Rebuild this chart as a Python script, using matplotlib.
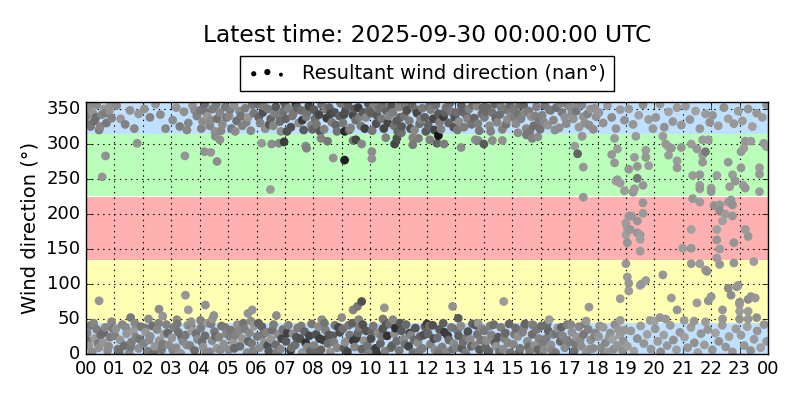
import numpy as np
import matplotlib
matplotlib.use('Agg')
import matplotlib.pyplot as plt

# ---------------- data ----------------
title_text = 'Latest time: 2025-09-30 00:00:00 UTC'
legend_label = 'Resultant wind direction (nan°)'
hour_labels = ['00', '01', '02', '03', '04', '05', '06', '07', '08', '09', '10', '11',
               '12', '13', '14', '15', '16', '17', '18', '19', '20', '21', '22', '23', '00']
y_ticks = [0, 50, 100, 150, 200, 250, 300, 350]

band_lo = [0, 45, 135, 225, 315]
band_hi = [45, 135, 225, 315, 360]
band_colors = ['#bfe0ff', '#ffffb3', '#ffb0b0', '#b9ffb9', '#bfe0ff']

# low band (0-45 deg)
low_t = [0.04, 0.10, 0.17, 0.22, 0.30, 0.38, 0.45, 0.52, 0.60, 0.68, 0.76, 0.84,
         1.05, 1.12, 1.20, 1.28, 1.35, 1.43, 1.52, 1.60, 1.67, 1.75, 1.85, 1.93,
         2.03, 2.10, 2.18, 2.26, 2.34, 2.42, 2.50, 2.58, 2.66, 2.74, 2.83, 2.91,
         3.02, 3.09, 3.17, 3.25, 3.33, 3.41, 3.50, 3.58, 3.66, 3.74, 3.82, 3.92,
         4.04, 4.12, 4.19, 4.27, 4.35, 4.44, 4.52, 4.60, 4.68, 4.77, 4.85, 4.93,
         5.02, 5.10, 5.18, 5.26, 5.33, 5.42, 5.50, 5.58, 5.67, 5.75, 5.83, 5.92,
         6.03, 6.11, 6.19, 6.27, 6.35, 6.43, 6.51, 6.60, 6.68, 6.76, 6.85, 6.93,
         7.04, 7.12, 7.20, 7.28, 7.36, 7.45, 7.53, 7.61, 7.69, 7.78, 7.86, 7.94,
         8.02, 8.10, 8.18, 8.27, 8.35, 8.43, 8.51, 8.60, 8.68, 8.76, 8.84, 8.93,
         9.04, 9.12, 9.20, 9.28, 9.37, 9.45, 9.53, 9.61, 9.70, 9.78, 9.86, 9.94,
         10.03, 10.11, 10.19, 10.27, 10.36, 10.44, 10.52, 10.60, 10.68, 10.77, 10.85, 10.93,
         11.02, 11.10, 11.18, 11.26, 11.35, 11.43, 11.51, 11.59, 11.68, 11.76, 11.84, 11.93,
         12.04, 12.12, 12.20, 12.28, 12.36, 12.44, 12.53, 12.61, 12.69, 12.77, 12.86, 12.94,
         13.03, 13.11, 13.19, 13.27, 13.36, 13.44, 13.52, 13.60, 13.69, 13.77, 13.85, 13.93,
         14.02, 14.10, 14.18, 14.27, 14.35, 14.43, 14.51, 14.60, 14.68, 14.76, 14.85, 14.93,
         15.04, 15.12, 15.20, 15.28, 15.36, 15.45, 15.53, 15.61, 15.70, 15.78, 15.86, 15.94,
         16.03, 16.11, 16.19, 16.27, 16.36, 16.44, 16.52, 16.60, 16.69, 16.77, 16.85, 16.93,
         17.02, 17.10, 17.18, 17.27, 17.35, 17.43, 17.51, 17.60, 17.68, 17.76, 17.85, 17.93,
         18.04, 18.12, 18.20, 18.28, 18.37, 18.45, 18.53, 18.61, 18.70, 18.79, 18.88, 18.95,
         19.05, 19.17, 19.28, 19.40, 19.52, 19.63, 19.75, 19.88,
         20.03, 20.12, 20.22, 20.33, 20.45, 20.56, 20.67, 20.78, 20.90,
         21.06, 21.17, 21.29, 21.41, 21.53, 21.64, 21.76, 21.88,
         22.04, 22.15, 22.27, 22.39, 22.51, 22.63, 22.75, 22.87,
         23.05, 23.16, 23.27, 23.39, 23.51, 23.62, 23.74, 23.86, 23.95]
low_d = [30, 12, 41, 3, 22, 35, 9, 27, 16, 38, 5, 24,
         36, 7, 20, 42, 12, 29, 2, 17, 33, 24, 8, 39,
         15, 31, 4, 25, 40, 11, 35, 19, 6, 28, 42, 13,
         23, 38, 9, 31, 1, 18, 27, 41, 12, 33, 5, 21,
         37, 10, 26, 44, 3, 19, 32, 8, 24, 40, 14, 29,
         6, 34, 17, 27, 42, 11, 22, 36, 2, 30, 15, 40,
         25, 9, 39, 16, 31, 4, 21, 42, 13, 28, 7, 35,
         18, 41, 5, 29, 13, 37, 22, 2, 32, 10, 26, 43,
         12, 28, 39, 6, 20, 34, 15, 3, 26, 41, 9, 31,
         36, 17, 3, 27, 44, 10, 23, 38, 7, 19, 33, 1,
         22, 40, 8, 30, 15, 36, 4, 26, 43, 12, 29, 18,
         5, 33, 21, 42, 11, 27, 2, 37, 16, 25, 8, 39,
         29, 14, 41, 6, 23, 35, 10, 31, 3, 20, 38, 15,
         9, 26, 40, 17, 2, 32, 21, 43, 12, 28, 6, 36,
         33, 19, 4, 27, 42, 11, 24, 38, 7, 30, 16, 2,
         14, 37, 25, 8, 31, 43, 18, 3, 28, 12, 35, 22,
         40, 6, 22, 33, 13, 28, 2, 37, 18, 26, 9, 42,
         17, 31, 4, 24, 39, 11, 28, 2, 35, 20, 8, 30,
         25, 9, 38, 16, 3, 30, 21, 42, 12, 27, 5, 34,
         11, 33, 4, 22, 40, 15, 28, 7,
         36, 18, 3, 27, 12, 41, 20, 6, 31,
         24, 9, 38, 16, 2, 29, 13, 35,
         6, 30, 18, 41, 10, 25, 3, 36,
         27, 12, 39, 5, 21, 33, 9, 42, 18]
low_g = [130, 150, 120, 140, 155, 125, 145, 110, 150, 135, 140, 125,
         145, 120, 150, 135, 110, 150, 140, 125, 155, 130, 145, 120,
         130, 150, 125, 140, 110, 150, 135, 145, 120, 155, 130, 140,
         150, 125, 140, 115, 150, 135, 120, 145, 130, 155, 110, 140,
         125, 145, 110, 150, 135, 140, 120, 150, 130, 115, 145, 135,
         140, 120, 150, 130, 145, 110, 150, 125, 140, 135, 120, 150,
         120, 140, 100, 145, 130, 90, 150, 125, 110, 140, 135, 115,
         90, 130, 60, 140, 110, 125, 80, 150, 100, 135, 70, 120,
         130, 80, 140, 100, 60, 125, 110, 145, 90, 120, 135, 75,
         110, 140, 70, 120, 95, 135, 60, 125, 100, 145, 85, 130,
         75, 120, 60, 140, 100, 85, 130, 50, 115, 95, 140, 110,
         120, 90, 140, 105, 70, 130, 115, 85, 140, 100, 125, 95,
         100, 130, 80, 140, 110, 90, 125, 60, 135, 105, 120, 140,
         130, 95, 140, 110, 125, 80, 140, 100, 130, 115, 90, 135,
         120, 140, 100, 130, 110, 145, 90, 125, 140, 105, 135, 115,
         135, 110, 145, 120, 130, 100, 140, 125, 110, 145, 120, 130,
         110, 140, 125, 100, 145, 130, 120, 150, 105, 135, 140, 125,
         125, 145, 110, 150, 135, 140, 120, 150, 130, 145, 140, 135,
         150, 140, 155, 135, 150, 145, 160, 140, 150, 155, 145, 150,
         155, 150, 160, 145, 155, 150, 160, 150,
         150, 155, 140, 160, 150, 155, 145, 160, 150,
         160, 150, 155, 145, 160, 150, 155, 150,
         150, 160, 145, 155, 150, 160, 150, 155,
         155, 150, 160, 145, 155, 150, 160, 150, 155]

# second set of low-band observations (0-45 deg), hours 00-18
low2_t = [0.07, 0.27, 0.42, 0.63, 0.80, 0.95,
          1.02, 1.17, 1.40, 1.57, 1.72, 1.89,
          2.07, 2.22, 2.38, 2.55, 2.70, 2.87,
          3.05, 3.21, 3.37, 3.54, 3.70, 3.87,
          4.08, 4.23, 4.40, 4.56, 4.73, 4.89,
          5.06, 5.22, 5.38, 5.54, 5.71, 5.88,
          6.07, 6.23, 6.39, 6.56, 6.72, 6.89,
          7.08, 7.24, 7.40, 7.57, 7.73, 7.90,
          8.06, 8.22, 8.39, 8.55, 8.72, 8.88,
          9.08, 9.24, 9.41, 9.57, 9.74, 9.90,
          10.07, 10.23, 10.40, 10.56, 10.73, 10.89,
          11.06, 11.22, 11.39, 11.55, 11.72, 11.88,
          12.08, 12.24, 12.40, 12.57, 12.73, 12.90,
          13.07, 13.23, 13.40, 13.56, 13.73, 13.89,
          14.06, 14.22, 14.39, 14.55, 14.72, 14.89,
          15.08, 15.24, 15.41, 15.57, 15.74, 15.90,
          16.07, 16.23, 16.40, 16.56, 16.73, 16.89,
          17.06, 17.23, 17.39, 17.56, 17.72, 17.89,
          18.08, 18.24, 18.41, 18.57, 18.74, 18.91]
low2_d = [19, 44, 15, 31, 11, 36,
          26, 3, 38, 10, 44, 21,
          37, 20, 2, 44, 14, 30,
          6, 43, 24, 13, 40, 29,
          17, 2, 43, 25, 6, 38,
          25, 8, 33, 44, 18, 5,
          44, 28, 12, 34, 2, 22,
          30, 9, 24, 40, 16, 4,
          2, 22, 44, 27, 17, 38,
          8, 41, 19, 30, 42, 12,
          33, 1, 25, 42, 9, 37,
          44, 14, 30, 20, 4, 27,
          40, 22, 2, 44, 26, 7,
          34, 8, 24, 11, 41, 20,
          10, 40, 16, 3, 22, 43,
          28, 2, 38, 10, 41, 6,
          15, 43, 5, 29, 38, 20,
          42, 14, 20, 43, 7, 25,
          40, 1, 24, 7, 35, 18]
low2_g = [115, 135, 125, 105, 140, 120,
          130, 110, 140, 120, 135, 115,
          120, 140, 110, 130, 125, 105,
          135, 120, 105, 140, 125, 115,
          110, 135, 125, 105, 140, 120,
          125, 105, 135, 115, 100, 130,
          95, 120, 80, 110, 125, 70,
          65, 110, 85, 125, 50, 100,
          105, 60, 115, 85, 125, 70,
          90, 120, 55, 105, 80, 115,
          100, 65, 120, 85, 110, 45,
          85, 115, 70, 105, 125, 80,
          110, 75, 120, 95, 60, 115,
          115, 90, 125, 100, 85, 120,
          105, 125, 90, 115, 130, 100,
          120, 100, 130, 110, 125, 105,
          125, 110, 135, 115, 100, 130,
          135, 120, 140, 125, 145, 130,
          145, 135, 150, 140, 150, 145]

# high band (315-360 deg)
high_t = [0.03, 0.10, 0.16, 0.23, 0.30, 0.38, 0.46, 0.55, 0.64, 0.72, 0.82, 0.90,
          1.08, 1.22, 1.38, 1.55, 1.70, 1.85,
          2.05, 2.25, 2.45, 2.62, 2.80,
          3.05, 3.18, 3.30, 3.45, 3.60, 3.75, 3.90,
          4.02, 4.10, 4.18, 4.27, 4.36, 4.45, 4.54, 4.62, 4.71, 4.80, 4.90,
          5.03, 5.12, 5.21, 5.30, 5.40, 5.50, 5.60, 5.70, 5.80, 5.90,
          6.04, 6.13, 6.22, 6.31, 6.40, 6.50, 6.59, 6.68, 6.77, 6.86, 6.95,
          7.03, 7.12, 7.21, 7.30, 7.39, 7.48, 7.57, 7.66, 7.75, 7.84, 7.93,
          8.02, 8.11, 8.20, 8.29, 8.38, 8.47, 8.56, 8.65, 8.74, 8.83, 8.92,
          9.04, 9.13, 9.22, 9.31, 9.40, 9.49, 9.58, 9.67, 9.76, 9.85, 9.94,
          10.03, 10.12, 10.21, 10.30, 10.39, 10.48, 10.57, 10.66, 10.75, 10.84, 10.93,
          11.02, 11.11, 11.20, 11.29, 11.38, 11.47, 11.56, 11.65, 11.74, 11.83, 11.92,
          12.04, 12.13, 12.22, 12.31, 12.40, 12.49, 12.58, 12.67, 12.76, 12.85, 12.94,
          13.03, 13.12, 13.21, 13.30, 13.39, 13.48, 13.57, 13.66, 13.75, 13.84, 13.93,
          14.02, 14.11, 14.20, 14.29, 14.38, 14.47, 14.56, 14.65, 14.74, 14.83, 14.92,
          15.04, 15.13, 15.22, 15.31, 15.40, 15.49, 15.58, 15.67, 15.76, 15.85, 15.94,
          16.05, 16.15, 16.25, 16.35, 16.45, 16.55, 16.65, 16.75, 16.85, 16.95,
          17.05, 17.15, 17.25, 17.35, 17.45, 17.55, 17.65, 17.75, 17.85, 17.95,
          18.05, 18.20, 18.35, 18.50, 18.65, 18.80, 18.95,
          19.10, 19.25, 19.45, 19.60, 19.80, 19.95,
          20.05, 20.20, 20.35, 20.50, 20.65, 20.80, 20.95,
          21.10, 21.25, 21.45, 21.60, 21.80, 21.95,
          22.05, 22.25, 22.45, 22.60, 22.80, 22.95,
          23.10, 23.30, 23.45, 23.60, 23.80, 23.95]
high_d = [340, 352, 325, 345, 333, 356, 320, 342, 350, 330, 347, 337,
          355, 336, 328, 348, 322, 343,
          350, 338, 357, 342, 322,
          334, 352, 325, 346, 330, 355, 340,
          348, 332, 357, 340, 326, 350, 318, 336, 345, 328, 353,
          340, 322, 355, 333, 347, 326, 351, 338, 319, 344,
          357, 330, 345, 322, 350, 336, 326, 353, 341, 318, 347,
          336, 351, 324, 344, 357, 330, 348, 320, 339, 354, 327,
          349, 328, 342, 356, 321, 337, 352, 331, 345, 318, 340,
          330, 347, 355, 323, 341, 334, 352, 326, 345, 338, 357,
          344, 357, 329, 350, 336, 322, 347, 340, 355, 326, 333,
          353, 325, 340, 348, 333, 357, 320, 344, 329, 351, 338,
          327, 349, 336, 356, 343, 321, 339, 352, 330, 346, 324,
          345, 332, 355, 324, 341, 350, 328, 337, 354, 319, 343,
          338, 352, 326, 345, 357, 331, 342, 321, 349, 335, 356,
          350, 329, 343, 336, 355, 322, 347, 339, 326, 353, 333,
          341, 355, 327, 348, 334, 352, 323, 345, 338, 356,
          352, 336, 347, 324, 356, 330, 343, 350, 321, 339,
          345, 330, 355, 338, 322, 349, 334,
          350, 328, 341, 356, 335, 322,
          338, 357, 324, 346, 332, 352, 327,
          354, 335, 347, 322, 343, 331,
          341, 326, 352, 336, 329, 347,
          333, 350, 325, 344, 338, 356]
high_g = [130, 145, 120, 150, 110, 140, 125, 135, 150, 120, 145, 130,
          140, 150, 130, 145, 135, 150,
          145, 130, 150, 140, 135,
          140, 150, 125, 145, 135, 150, 130,
          120, 140, 110, 150, 130, 125, 145, 115, 135, 140, 120,
          135, 120, 145, 110, 140, 130, 125, 150, 135, 120,
          110, 130, 80, 140, 120, 100, 135, 90, 125, 140, 115,
          100, 130, 80, 120, 60, 140, 110, 90, 125, 70, 135,
          90, 120, 70, 110, 130, 60, 100, 125, 80, 115, 95,
          120, 80, 100, 130, 70, 110, 60, 125, 90, 135, 85,
          95, 130, 80, 110, 120, 70, 100, 135, 85, 115, 90,
          130, 90, 115, 80, 125, 100, 135, 70, 110, 120, 95,
          100, 125, 70, 110, 90, 130, 60, 115, 100, 120, 85,
          110, 140, 95, 125, 105, 130, 115, 100, 135, 120, 110,
          125, 105, 140, 115, 100, 135, 110, 130, 120, 140, 105,
          120, 140, 115, 130, 100, 135, 125, 145, 110, 130, 120,
          130, 115, 145, 120, 135, 110, 140, 125, 145, 130,
          140, 145, 120, 150, 135, 145, 130, 150, 140, 145,
          150, 145, 155, 140, 150, 155, 145,
          155, 150, 160, 145, 155, 150,
          150, 155, 145, 160, 150, 155, 150,
          155, 150, 160, 150, 155, 145,
          150, 155, 145, 160, 150, 155,
          155, 150, 160, 150, 155, 145]

# second set of high-band observations (315-360 deg)
high2_t = [0.06, 0.20, 0.35, 0.50, 0.68, 0.86,
           3.55, 3.82,
           4.06, 4.23, 4.40, 4.58, 4.75, 4.94,
           5.07, 5.25, 5.45, 5.64, 5.85,
           6.08, 6.26, 6.45, 6.63, 6.82, 6.99,
           7.07, 7.26, 7.43, 7.61, 7.80, 7.97,
           8.06, 8.24, 8.42, 8.60, 8.79, 8.96,
           9.08, 9.26, 9.44, 9.63, 9.81, 9.98,
           10.07, 10.25, 10.43, 10.62, 10.80, 10.97,
           11.06, 11.24, 11.42, 11.60, 11.78, 11.96,
           12.08, 12.26, 12.44, 12.62, 12.80, 12.98,
           13.07, 13.25, 13.43, 13.61, 13.79, 13.97,
           14.06, 14.24, 14.42, 14.60, 14.78, 14.96,
           15.08, 15.26, 15.44, 15.62, 15.80, 15.98,
           16.10, 16.30, 16.50, 16.70, 16.90,
           17.10, 17.30, 17.50, 17.70, 17.90]
high2_d = [328, 358, 338, 325, 344, 357,
           320, 348,
           322, 345, 334, 356, 319, 338,
           349, 318, 340, 331, 356,
           338, 354, 328, 344, 332, 358,
           318, 340, 352, 334, 346, 321,
           336, 318, 350, 343, 327, 358,
           342, 320, 350, 339, 322, 348,
           319, 340, 356, 330, 345, 318,
           338, 355, 322, 349, 336, 318,
           354, 320, 331, 345, 358, 338,
           320, 346, 336, 356, 329, 352,
           346, 318, 336, 354, 328, 342,
           338, 356, 345, 318, 340, 321,
           332, 349, 320, 358, 329,
           344, 358, 339, 327, 351]
high2_g = [120, 140, 110, 135, 125, 145,
           135, 140,
           130, 115, 140, 125, 135, 120,
           125, 140, 115, 130, 120,
           100, 125, 85, 130, 110, 95,
           80, 120, 95, 60, 115, 100,
           110, 85, 125, 70, 100, 120,
           75, 115, 90, 125, 65, 105,
           120, 90, 110, 70, 125, 100,
           95, 120, 80, 110, 130, 90,
           115, 70, 125, 95, 110, 80,
           120, 100, 130, 110, 125, 105,
           110, 130, 100, 125, 115, 135,
           125, 110, 135, 120, 130, 115,
           135, 125, 140, 130, 140,
           140, 135, 145, 140, 145]

# scattered points outside the two main bands
mid_t = [0.57, 0.69, 1.80, 3.48, 4.17, 4.39, 4.61, 6.49, 6.18, 6.53, 6.79, 6.97, 7.73, 7.76, 4.71, 4.55,
         0.46, 3.50, 3.60, 4.20, 2.57, 2.70, 2.20, 1.57, 0.90, 4.50, 4.45, 5.70, 5.85, 5.80, 6.70, 4.03, 3.20, 3.70,
         9.10, 9.10, 8.70, 8.27, 8.50, 9.40, 9.50, 9.70, 10.06, 10.06, 10.55, 10.86, 10.94, 11.10, 11.50, 11.50,
         11.70, 12.10, 12.40, 12.35, 12.60, 13.20, 13.70, 13.80, 14.00, 14.30, 14.65, 15.20, 15.50, 15.70, 15.90,
         8.30, 9.00, 9.40, 9.55, 9.70, 10.50, 9.60, 10.45, 10.80, 12.90, 13.10, 14.70, 12.00, 13.80, 15.70,
         17.20, 17.30, 17.50, 17.50, 17.46, 18.60, 18.50, 18.70, 18.60, 18.65, 18.80, 18.70, 18.95, 19.10, 19.30,
         19.40, 19.40, 19.30, 19.25, 19.70, 19.70, 19.80, 19.60, 19.35, 20.30, 20.40, 20.50, 20.60, 20.50, 20.95,
         20.80, 20.80, 21.30, 21.50, 21.70, 21.90, 21.80, 21.70, 21.70, 21.35, 21.60, 21.60, 21.60, 22.00, 22.00,
         22.20, 22.60, 22.75, 22.85, 22.65, 23.05, 23.15, 23.05, 23.13, 23.20, 23.70, 23.70, 23.70, 23.20, 23.40,
         23.85, 23.95,
         21.35, 21.60, 22.10, 22.30, 22.30, 22.60, 22.70, 22.75, 22.50, 22.75, 22.40, 19.60, 19.60, 19.40, 19.10,
         19.20, 19.00, 19.00, 19.15, 19.05, 19.40, 19.50, 19.05, 19.50, 19.50, 19.00, 19.05, 19.10, 19.10, 19.50,
         19.55, 19.70, 20.30, 20.60, 20.80, 18.80, 17.70, 18.80, 17.60, 16.30, 21.30, 21.30, 21.00, 21.30, 21.60,
         21.80, 21.85, 22.20, 22.30, 22.20, 22.20, 22.30, 22.80, 23.20, 23.30, 22.80, 23.50, 22.60, 22.90, 22.95,
         22.70, 23.00, 23.00, 23.00, 22.00, 21.90, 21.50, 22.40, 23.30, 23.40, 23.55, 23.30, 22.40, 23.00, 23.30,
         23.60, 19.85, 20.20, 20.00, 20.40, 21.05, 21.40, 21.80]
mid_d = [253, 283, 301, 283, 289, 288, 275, 235, 301, 300, 301, 303, 297, 294, 306, 311,
         76, 84, 63, 70, 64, 54, 50, 52, 46, 55, 50, 58, 63, 47, 55, 48, 49, 46,
         318, 277, 280, 308, 304, 305, 306, 300, 289, 279, 309, 300, 308, 316, 309, 299,
         308, 306, 312, 301, 300, 295, 306, 305, 300, 305, 305, 316, 313, 308, 310,
         49, 52, 63, 68, 75, 66, 49, 50, 49, 68, 51, 75, 43, 44, 42,
         297, 286, 267, 224, 311, 308, 285, 293, 273, 247, 244, 249, 233, 264, 281,
         268, 251, 236, 231, 291, 281, 269, 241, 311, 311, 300, 296, 294, 284, 295,
         276, 266, 300, 293, 306, 306, 289, 284, 274, 255, 256, 241, 236, 237, 232,
         255, 274, 256, 247, 239, 289, 294, 266, 241, 237, 266, 257, 232, 304, 304,
         301, 296,
         222, 217, 212, 213, 204, 217, 220, 213, 200, 197, 190, 216, 201, 190, 197,
         197, 187, 170, 178, 180, 173, 170, 159, 164, 147, 129, 110, 101, 90, 98,
         100, 105, 113, 80, 63, 79, 67, 48, 47, 49, 178, 151, 151, 129, 129,
         120, 118, 137, 128, 178, 163, 150, 159, 178, 168, 130, 132, 94, 96, 98,
         84, 74, 71, 61, 82, 76, 73, 63, 78, 82, 80, 61, 50, 50, 50,
         52, 48, 52, 47, 50, 48, 47, 46]
mid_g = [150, 145, 145, 150, 145, 150, 140, 155, 150, 140, 135, 60, 140, 130, 145, 140,
         150, 150, 155, 145, 140, 150, 140, 120, 135, 145, 150, 145, 150, 140, 140, 130, 140, 145,
         40, 30, 145, 130, 120, 120, 70, 135, 140, 145, 130, 70, 80, 110, 130, 120,
         125, 130, 20, 100, 125, 140, 140, 135, 90, 140, 145, 140, 120, 130, 140,
         140, 140, 130, 120, 80, 150, 130, 120, 135, 145, 90, 155, 60, 150, 140,
         155, 100, 150, 150, 150, 155, 150, 155, 150, 160, 155, 150, 155, 150, 155,
         150, 120, 155, 150, 155, 150, 155, 150, 155, 155, 150, 155, 150, 155, 150,
         155, 150, 155, 150, 155, 155, 120, 155, 150, 155, 150, 155, 150, 155, 150,
         155, 150, 155, 150, 155, 150, 155, 150, 155, 150, 155, 150, 155, 150, 155,
         150, 155,
         150, 155, 145, 150, 140, 155, 150, 145, 155, 150, 160, 150, 155, 150, 155,
         150, 155, 160, 150, 155, 150, 155, 150, 160, 155, 150, 155, 150, 155, 160,
         150, 155, 150, 155, 150, 155, 150, 155, 150, 155, 160, 150, 155, 150, 155,
         150, 145, 155, 150, 160, 150, 155, 150, 155, 150, 150, 155, 140, 145, 150,
         140, 145, 150, 155, 150, 145, 155, 150, 140, 145, 150, 155, 150, 145, 150,
         145, 155, 150, 160, 150, 155, 150, 155]

# ---------------- plot ----------------
plt.style.use('classic')
plt.rcParams['font.family'] = ['DejaVu Sans']

fig = plt.figure(figsize=(8, 4), dpi=100, facecolor='white')
ax = fig.add_axes([0.1075, 0.115, 0.8525, 0.63])

for lo, hi, col in zip(band_lo, band_hi, band_colors):
    ax.axhspan(lo, hi, color=col, lw=0, zorder=0)

t_all = np.concatenate([low_t, low2_t, high_t, high2_t, mid_t])
d_all = np.concatenate([low_d, low2_d, high_d, high2_d, mid_d])
g_all = np.concatenate([low_g, low2_g, high_g, high2_g, mid_g]) / 255.0
order = np.argsort(t_all, kind='stable')
cols = np.stack([g_all, g_all, g_all], axis=1)
ax.scatter(t_all[order], d_all[order], s=40, c=cols[order], linewidths=0, zorder=2)
ax.scatter([np.nan, np.nan], [np.nan, np.nan], s=[8, 20], c='k', linewidths=0,
           label=legend_label)

ax.set_xlim(0, 24)
ax.set_ylim(0, 360)
ax.set_xticks(range(len(hour_labels)))
ax.set_xticklabels(hour_labels, fontsize=13)
ax.set_yticks(y_ticks)
ax.tick_params(axis='y', labelsize=13)
ax.set_axisbelow(True)
ax.grid(True, color='k', linestyle=':', linewidth=0.8, zorder=1)
ax.set_ylabel('Wind direction (°)', fontsize=14)

ax.legend(loc='lower center', bbox_to_anchor=(0.5, 1.045), scatterpoints=3,
          fontsize=14, frameon=True, borderaxespad=0.0)
fig.text(0.534, 0.9125, title_text, ha='center', va='center', fontsize=16.8)

fig.savefig('out.png', dpi=100, facecolor='white')
